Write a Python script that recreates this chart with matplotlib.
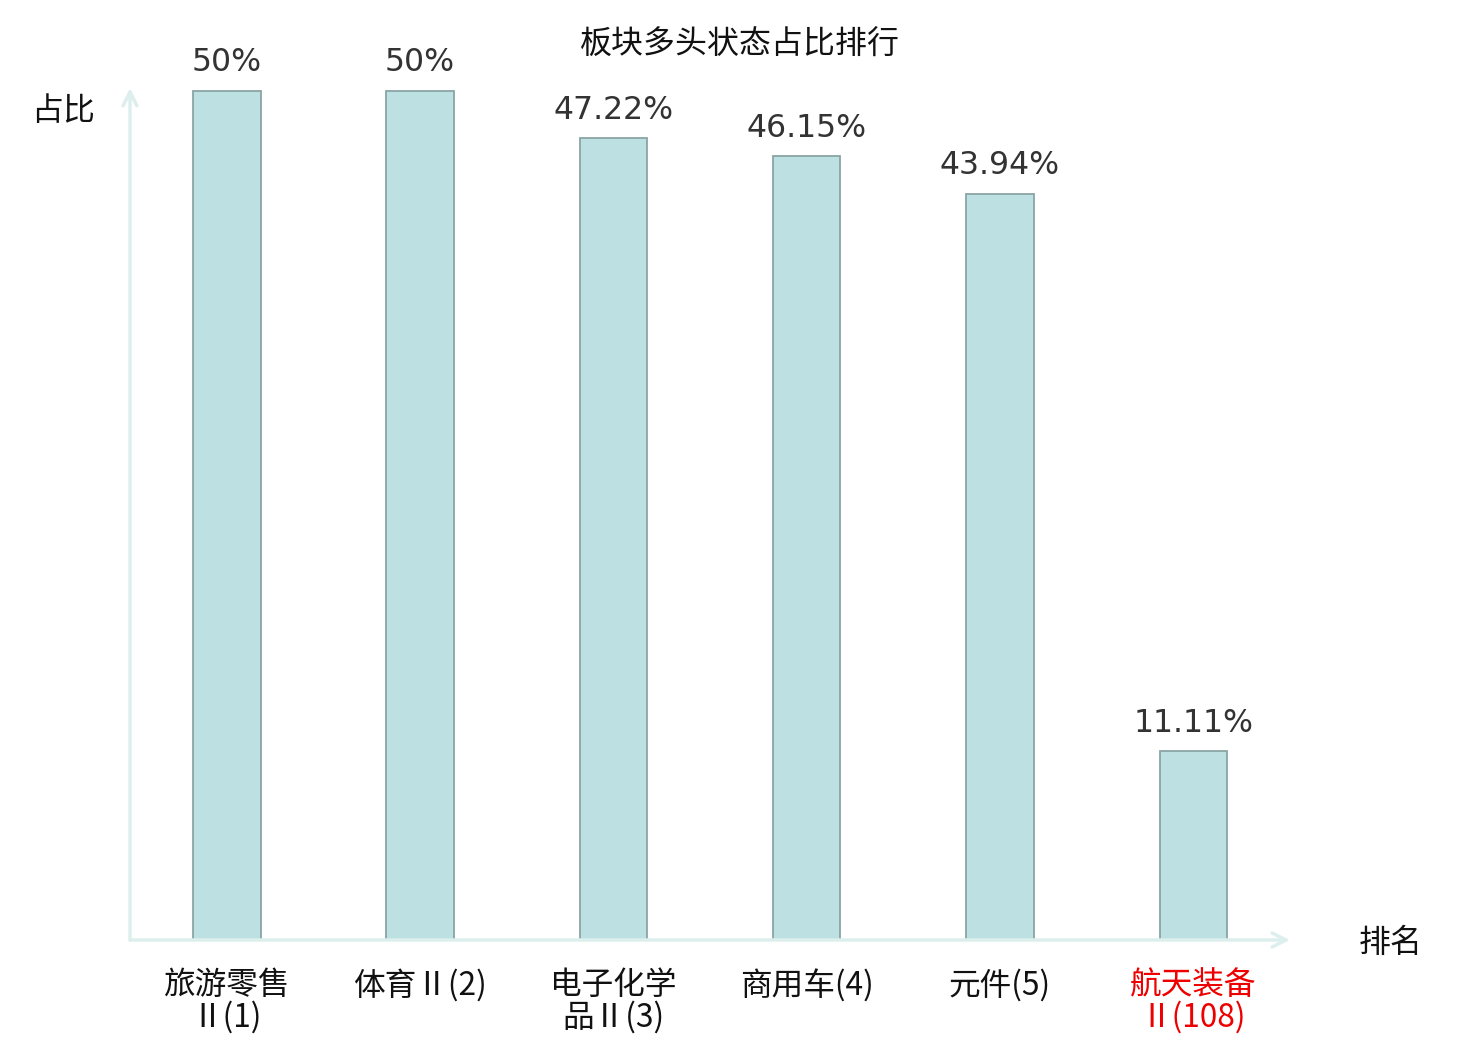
import matplotlib
matplotlib.use('Agg')
import matplotlib.pyplot as plt
import numpy as np

plt.rcParams['font.family'] = ['Noto Sans CJK SC', 'DejaVu Sans']

# data
categories = ['旅游零售\nⅡ(1)', '体育Ⅱ(2)', '电子化学\n品Ⅱ(3)', '商用车(4)', '元件(5)', '航天装备\nⅡ(108)']
values = [50, 50, 47.22, 46.15, 43.94, 11.11]
value_labels = ['50%', '50%', '47.22%', '46.15%', '43.94%', '11.11%']
label_colors = ['#111111', '#111111', '#111111', '#111111', '#111111', '#ee0000']

fig = plt.figure(figsize=(14.8, 10.4), dpi=100)
ax = fig.add_axes([130 / 1480, 1 - 940 / 1040, 1160 / 1480, 852 / 1040])

x = np.arange(len(categories))
ax.bar(x, values, width=0.35, color='#bde0e3', edgecolor='#8aa5a5', linewidth=1.3, zorder=3)

for xi, v, lab in zip(x, values, value_labels):
    ax.text(xi, v + 0.75, lab, ha='center', va='bottom', fontsize=22.7,
            color='#333333', family='DejaVu Sans')

ax.set_xlim(-0.5, 5.5)
ax.set_ylim(0, 50.18)
for s in ax.spines.values():
    s.set_visible(False)
ax.set_yticks([])
ax.set_xticks(x)
ax.set_xticklabels(categories, fontsize=22.8, linespacing=0.98)
ax.tick_params(axis='x', length=0, pad=21)
for t, c in zip(ax.get_xticklabels(), label_colors):
    t.set_color(c)

# axis arrows
axis_color = '#dcefed'
arrow = dict(arrowstyle='->,head_length=1.0,head_width=0.5', color=axis_color, lw=2.5,
             shrinkA=0, shrinkB=0)
ax.annotate('', xy=(1.0, 0), xytext=(0, 0), xycoords='axes fraction', arrowprops=arrow,
            annotation_clip=False)
ax.annotate('', xy=(0, 1.0), xytext=(0, 0), xycoords='axes fraction', arrowprops=arrow,
            annotation_clip=False)

fig.text(63 / 1480, 1 - 111 / 1040, '占比', ha='center', va='center', fontsize=23, color='#111111')
fig.text(1391 / 1480, 1 - 943 / 1040, '排名', ha='center', va='center', fontsize=23, color='#111111')
fig.text(740 / 1480, 1 - 45 / 1040, '板块多头状态占比排行', ha='center', va='center', fontsize=23,
         color='#111111')

fig.savefig('out.png', dpi=100)
